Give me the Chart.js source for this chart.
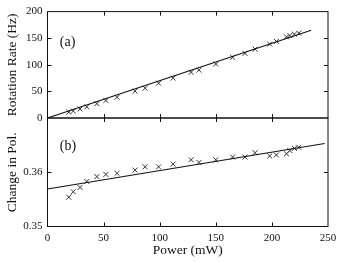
<!DOCTYPE html>
<html>
<head>
<meta charset="utf-8">
<script src="https://cdn.jsdelivr.net/npm/chart.js@4.4.1/dist/chart.umd.min.js"></script>
<style>
body { margin: 0; background: #fff; }
#wrap { position: relative; width: 342px; height: 263px; }
canvas { position: absolute; left: 0; top: 0; }
</style>
</head>
<body>
<div id="wrap">
  <canvas id="rateChart" width="342" height="263"></canvas>
  <canvas id="polChart" width="342" height="263"></canvas>
</div>
<script>
const power = [19, 23, 29, 35, 44, 52, 62, 78, 87, 99, 112, 128, 135, 150, 165, 176, 185, 198, 204, 213, 216, 220, 224];
const rotationRate = [11, 13, 17, 21, 27, 33, 39, 50.5, 56, 65.5, 75, 86, 90, 101.5, 114, 121.5, 129.5, 139, 144, 152.5, 155, 157.5, 159.5];
const polChange = [0.3554, 0.3564, 0.3572, 0.3583, 0.3592, 0.3596, 0.3598, 0.3604, 0.3610, 0.3610, 0.3615, 0.3623, 0.3618, 0.3623, 0.3628, 0.3628, 0.3636, 0.3630, 0.3632, 0.3634, 0.3640, 0.3644, 0.3646];
const rateFitX = [0, 235];
const rateFitY = [0, 165];
const polFitX = [0, 247];
const polFitY = [0.3569, 0.3653];
const xTicks = [0, 50, 100, 150, 200, 250];
const rateTicks = [0, 50, 100, 150, 200];
const polTicks = [0.35, 0.36, 0.37];

const serif = '"Liberation Serif", "DejaVu Serif", serif';
const ink = '#111';

// frame box, inward tick marks and the (a)/(b) panel label
const frameTicks = {
  id: 'frameTicks',
  afterDraw(chart, args, opts) {
    const { ctx, chartArea: a, scales } = chart;
    ctx.save();
    ctx.strokeStyle = ink;
    ctx.lineWidth = 1;
    ctx.strokeRect(a.left, a.top, a.right - a.left, a.bottom - a.top);
    const len = 4;
    ctx.beginPath();
    xTicks.forEach(v => {
      const px = Math.round(scales.x.getPixelForValue(v)) + 0.5;
      if (px <= a.left + 1 || px >= a.right - 1) return;
      ctx.moveTo(px, a.top); ctx.lineTo(px, a.top + len);
      ctx.moveTo(px, a.bottom); ctx.lineTo(px, a.bottom - len);
    });
    opts.yTicks.forEach(v => {
      const py = Math.round(scales.y.getPixelForValue(v)) + 0.5;
      if (py <= a.top + 1 || py >= a.bottom - 1) return;
      ctx.moveTo(a.left, py); ctx.lineTo(a.left + len, py);
      ctx.moveTo(a.right, py); ctx.lineTo(a.right - len, py);
    });
    ctx.stroke();
    ctx.fillStyle = ink;
    ctx.font = '14px ' + serif;
    ctx.textAlign = 'left';
    ctx.textBaseline = 'middle';
    ctx.fillText(opts.label, scales.x.getPixelForValue(opts.labelAt[0]), scales.y.getPixelForValue(opts.labelAt[1]));
    ctx.restore();
  }
};

function markers(ys) {
  return {
    type: 'scatter',
    data: power.map((x, i) => ({ x, y: ys[i] })),
    pointStyle: 'crossRot',
    pointRadius: 3.5,
    pointBorderColor: '#333',
    pointBorderWidth: 1,
    showLine: false
  };
}

function fitLine(xs, ys) {
  return {
    type: 'line',
    data: xs.map((x, i) => ({ x, y: ys[i] })),
    borderColor: ink,
    borderWidth: 1.1,
    pointRadius: 0,
    fill: false
  };
}

function yAxis(min, max, step, title, fmt) {
  return {
    type: 'linear',
    min, max,
    afterFit: s => { s.width = 47.5; },
    grid: { display: false, drawTicks: false },
    border: { display: false },
    ticks: {
      stepSize: step,
      padding: 5,
      color: ink,
      font: { family: serif, size: 11 },
      callback: fmt
    },
    title: { display: true, text: title, color: ink, font: { family: serif, size: 13.5 }, padding: 4 }
  };
}

new Chart(document.getElementById('rateChart'), {
  data: { datasets: [fitLine(rateFitX, rateFitY), markers(rotationRate)] },
  options: {
    responsive: false,
    animation: false,
    devicePixelRatio: 1,
    layout: { padding: { top: 11, bottom: 145, left: 0, right: 14 } },
    plugins: {
      legend: { display: false },
      tooltip: { enabled: false },
      frameTicks: { yTicks: rateTicks, label: '(a)', labelAt: [11, 143] }
    },
    scales: {
      x: { type: 'linear', min: 0, max: 250, display: false },
      y: yAxis(0, 200, 50, 'Rotation Rate (Hz)', v => v)
    }
  },
  plugins: [frameTicks]
});

new Chart(document.getElementById('polChart'), {
  data: { datasets: [fitLine(polFitX, polFitY), markers(polChange)] },
  options: {
    responsive: false,
    animation: false,
    devicePixelRatio: 1,
    layout: { padding: { top: 118, bottom: 0, left: 0, right: 14 } },
    plugins: {
      legend: { display: false },
      tooltip: { enabled: false },
      frameTicks: { yTicks: polTicks, label: '(b)', labelAt: [11, 0.3647] }
    },
    scales: {
      x: {
        type: 'linear',
        min: 0, max: 250,
        afterFit: s => { s.height = 36.5; },
        grid: { display: false, drawTicks: false },
        border: { display: false },
        ticks: { stepSize: 50, padding: 5, color: ink, font: { family: serif, size: 11 } },
        title: { display: true, text: 'Power (mW)', color: ink, font: { family: serif, size: 13.5 }, padding: 4 }
      },
      y: yAxis(0.35, 0.37, 0.01, 'Change in Pol.', v => (Math.abs(v - 0.37) < 1e-6 ? '' : v.toFixed(2)))
    }
  },
  plugins: [frameTicks]
});
</script>
</body>
</html>
